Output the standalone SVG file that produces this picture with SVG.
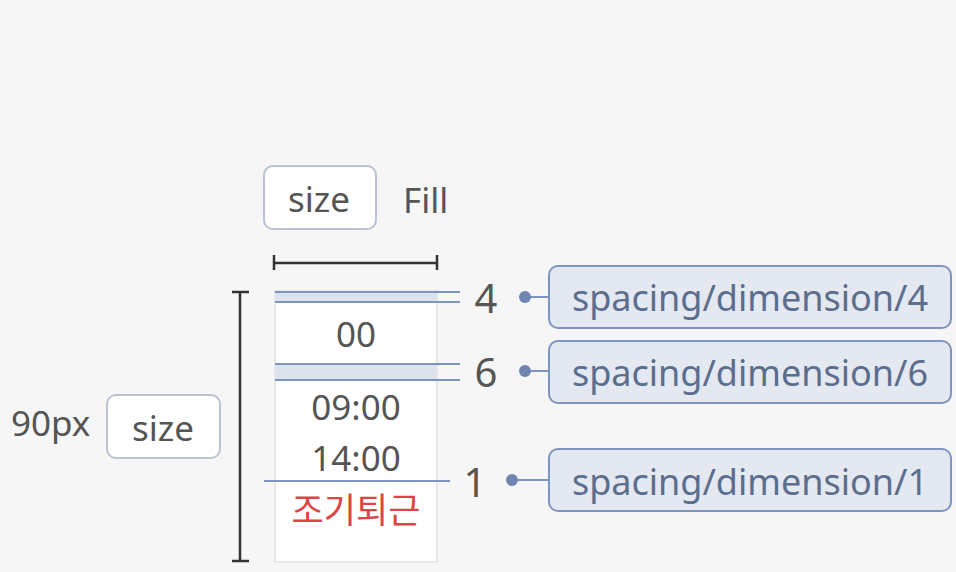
<svg xmlns="http://www.w3.org/2000/svg" width="956" height="572" viewBox="0 0 956 572">
<style>
.t{font-family:"Noto Sans","Noto Sans CJK KR",sans-serif;fill:#555;font-size:35px;}
.sz{fill:#fff;stroke:#b9c3d3;stroke-width:2;}
.tag{fill:#e3e8f1;stroke:#7d95bf;stroke-width:2;}
.tagt{font-family:"Noto Sans",sans-serif;font-size:36px;fill:#5b6e8e;}
.num{font-family:"Noto Sans",sans-serif;fill:#555;font-size:40px;}
.dim{stroke:#333;stroke-width:2.5;fill:none;}
.bl{stroke:#7d95bf;stroke-width:2;fill:none;}
.dot{fill:#6f86b0;}
</style>
<rect width="956" height="572" fill="#f6f6f6"/>
<g id="width-label">
<rect class="sz" x="264" y="166" width="112" height="63" rx="9"/>
<text class="t" x="319" y="212" text-anchor="middle" font-size="36">size</text>
<text class="t" x="403" y="213">Fill</text>
</g>
<g id="height-label">
<text class="t" x="11" y="436">90px</text>
<rect class="sz" x="107" y="395" width="113" height="63" rx="9"/>
<text class="t" x="163" y="441" text-anchor="middle" font-size="36">size</text>
</g>
<g id="dimensions">
<path class="dim" d="M274 255V270M274 263H437M437 255V270"/>
<path class="dim" d="M232 292H249M240 292V561M232 561H249"/>
</g>
<g id="column">
<rect x="275" y="291" width="162" height="271" fill="#fff" stroke="#e8e8e8" stroke-width="2"/>
<rect x="275" y="292" width="162" height="10" fill="#dde3ec"/>
<rect x="275" y="364" width="162" height="16" fill="#dde3ec"/>
<text class="t" x="356" y="347" text-anchor="middle" font-size="36">00</text>
<text class="t" x="356" y="420" text-anchor="middle" font-size="36">09:00</text>
<text class="t" x="356" y="471" text-anchor="middle" font-size="36">14:00</text>
<text class="t" x="356" y="523" text-anchor="middle" font-size="36" style="fill:#dc4545">조기퇴근</text>
</g>
<g id="connectors">
<path class="bl" d="M275 292H460M275 302H460M275 364H460M275 380H460M264 481H450"/>
<path class="bl" d="M525 297H548M525 371H548M512 480H548"/>
<circle class="dot" cx="525" cy="297" r="6"/>
<circle class="dot" cx="525" cy="371" r="6"/>
<circle class="dot" cx="512" cy="480" r="6"/>
</g>
<g id="num-4"><text class="num" x="486" y="313" text-anchor="middle">4</text></g>
<g id="num-6"><text class="num" x="486" y="387" text-anchor="middle">6</text></g>
<g id="num-1"><text class="num" x="475" y="497" text-anchor="middle">1</text></g>
<g id="tag-4">
<rect class="tag" x="549" y="266" width="402" height="62" rx="9"/>
<text class="tagt" x="750" y="311" text-anchor="middle">spacing/dimension/4</text>
</g>
<g id="tag-6">
<rect class="tag" x="549" y="341" width="402" height="62" rx="9"/>
<text class="tagt" x="750" y="386" text-anchor="middle">spacing/dimension/6</text>
</g>
<g id="tag-1">
<rect class="tag" x="549" y="449" width="402" height="62" rx="9"/>
<text class="tagt" x="750" y="495" text-anchor="middle">spacing/dimension/1</text>
</g>
</svg>
